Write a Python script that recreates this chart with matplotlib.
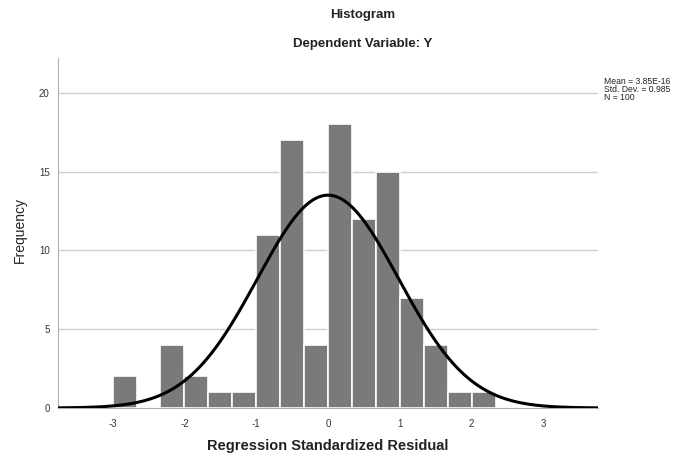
import numpy as np
import matplotlib
matplotlib.use("Agg")
import matplotlib.pyplot as plt

plt.rcParams['font.family'] = ['Liberation Sans', 'DejaVu Sans']

# Data
bin_left = [-3.0, -2.6667, -2.3333, -2.0, -1.6667, -1.3333, -1.0, -0.6667, -0.3333,
            0.0, 0.3333, 0.6667, 1.0, 1.3333, 1.6667, 2.0]
counts = [2, 0, 4, 2, 1, 1, 11, 17, 4, 18, 12, 15, 7, 4, 1, 1]
bin_width = 1 / 3
mean_val = 3.85e-16
std_val = 0.985
n_val = 100
x_ticks = [-3, -2, -1, 0, 1, 2, 3]
y_ticks = [0, 5, 10, 15, 20]

W, H = 681, 457
fig = plt.figure(figsize=(W / 100, H / 100), dpi=100)
ax = fig.add_axes([58 / W, 1 - 408 / H, (598 - 58) / W, (408 - 58) / H])

ax.bar(bin_left, counts, width=bin_width, align='edge', color='#7a7a7a',
       edgecolor='white', linewidth=1.2, zorder=2)

xs = np.linspace(-3.76, 3.76, 400)
pdf = n_val * bin_width * np.exp(-0.5 * ((xs - mean_val) / std_val) ** 2) / (std_val * np.sqrt(2 * np.pi))
ax.plot(xs, pdf, color='black', linewidth=2.2, zorder=3, solid_capstyle='butt')

ax.set_xlim(-3.76, 3.76)
ax.set_ylim(0, 22.2)
ax.set_xticks(x_ticks)
ax.set_yticks(y_ticks)
ax.set_xticklabels([str(t) for t in x_ticks])
ax.set_yticklabels([str(t) for t in y_ticks])
ax.tick_params(axis='both', length=0, labelsize=7, colors='#333333')
ax.tick_params(axis='x', pad=8)
ax.tick_params(axis='y', pad=6)
for v in y_ticks[1:]:
    ax.axhline(v, color='#cfcfcf', linewidth=1.0, zorder=1)

for s in ['top', 'right']:
    ax.spines[s].set_visible(False)
ax.spines['left'].set_color('#b0b0b0')
ax.spines['bottom'].set_color('#b0b0b0')

fig.text(363 / W, 1 - 15 / H, 'Histogram', ha='center', va='center',
         fontsize=9.5, fontweight='bold', color='#222222')
fig.text(363 / W, 1 - 44 / H, 'Dependent Variable: Y', ha='center', va='center',
         fontsize=9.5, fontweight='bold', color='#222222')
fig.text(328 / W, 1 - 446 / H, 'Regression Standardized Residual', ha='center', va='center',
         fontsize=10.5, fontweight='bold', color='#222222')
fig.text(20 / W, 1 - 230 / H, 'Frequency', ha='center', va='center', rotation=90,
         fontsize=10, color='#222222')

stats_lines = ['Mean = 3.85E-16', f'Std. Dev. = {std_val}', f'N = {n_val}']
for i, line in enumerate(stats_lines):
    fig.text(604 / W, 1 - (82 + 8 * i) / H, line, ha='left', va='center',
             fontsize=6.2, color='#222222')

fig.savefig('out.png', dpi=100)
